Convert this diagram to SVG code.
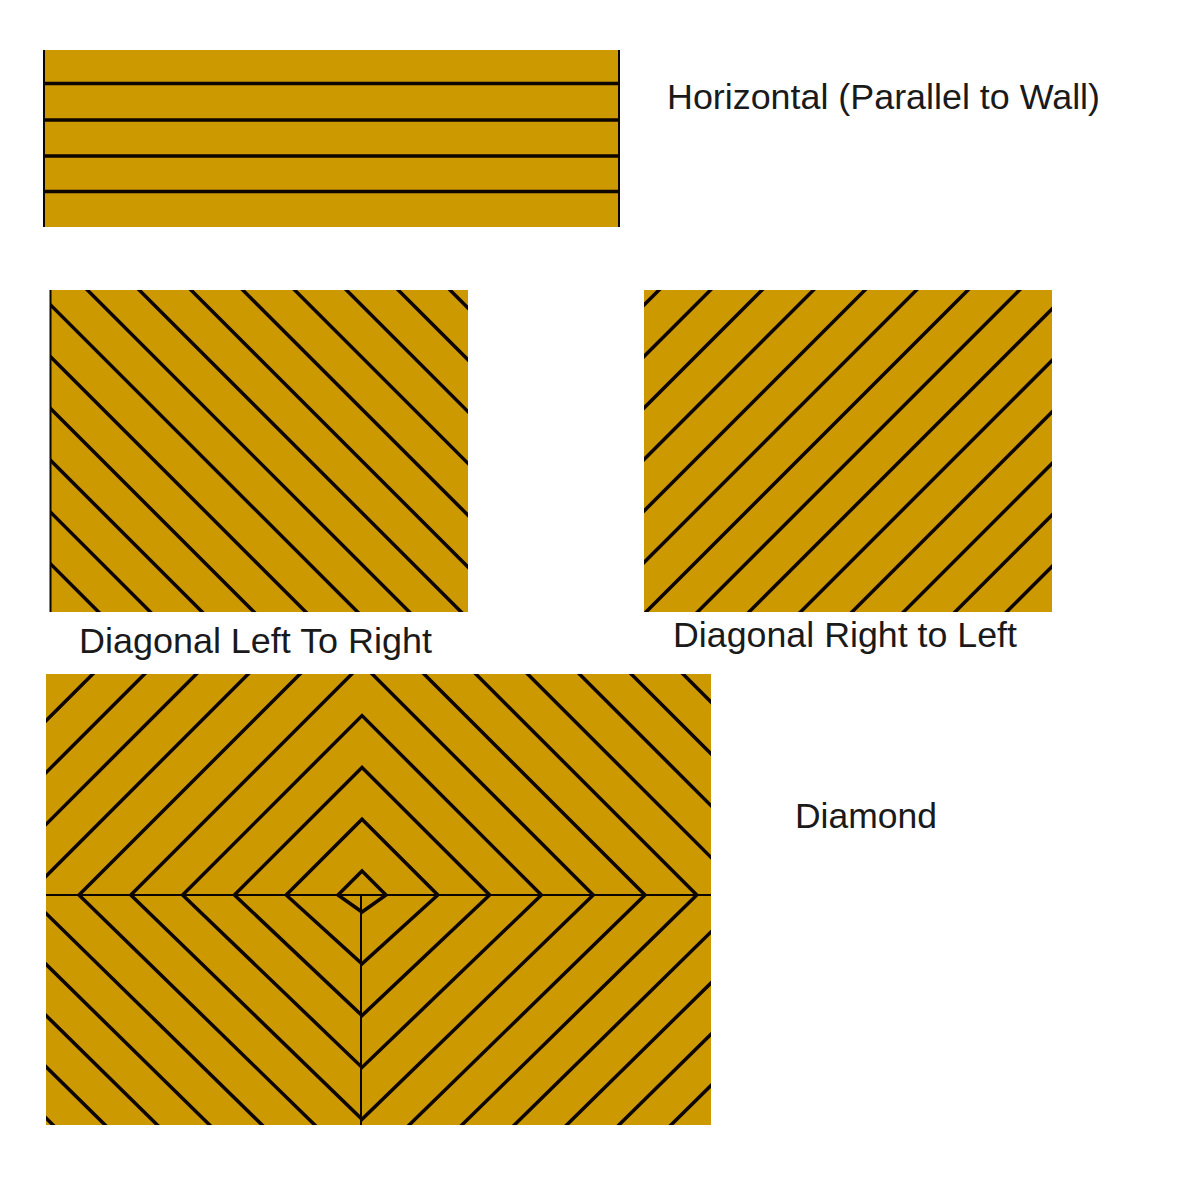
<svg xmlns="http://www.w3.org/2000/svg" width="1200" height="1200" viewBox="0 0 1200 1200">
<style>
.wood{fill:#CC9900;}
.ln{fill:none;stroke:#0d0500;stroke-width:3.5;stroke-linejoin:miter;stroke-miterlimit:10;}
.edge{fill:none;stroke:#0d0500;stroke-width:2;}
.lbl{font-family:"Liberation Sans",Arial,sans-serif;font-size:35px;fill:#1a1a1a;}
</style>
<defs>
<clipPath id="clipL"><rect x="50" y="290" width="418" height="322"/></clipPath>
<clipPath id="clipR"><rect x="644" y="290" width="408" height="322"/></clipPath>
<clipPath id="clipD"><rect x="46" y="674" width="665" height="451"/></clipPath>
</defs>
<rect width="1200" height="1200" fill="#ffffff"/>

<g id="horizontal">
<rect class="wood" x="43" y="50" width="576" height="177"/>
<path class="ln" d="M43 83.5 H619 M43 120 H619 M43 156 H619 M43 191.5 H619"/>
<path class="edge" stroke-width="2.5" d="M44 50 V227"/>
<path class="edge" stroke-width="1.5" d="M619 50 V227"/>
</g>

<g id="diagonal-left">
<rect class="wood" x="50" y="290" width="418" height="322"/>
<g clip-path="url(#clipL)">
<path class="ln" d="M30 -130 L490 330 M30 -78.2 L490 381.8 M30 -26.4 L490 433.6 M30 25.4 L490 485.4 M30 77.2 L490 537.2 M30 129 L490 589 M30 180.8 L490 640.8 M30 232.6 L490 692.6 M30 284.4 L490 744.4 M30 336.2 L490 796.2 M30 388 L490 848 M30 439.8 L490 899.8 M30 491.6 L490 951.6 M30 543.4 L490 1003.4"/>
</g>
<path class="edge" stroke-width="1.5" d="M50.5 290 V612"/>
</g>

<g id="diagonal-right">
<rect class="wood" x="644" y="290" width="408" height="322"/>
<g clip-path="url(#clipR)">
<path class="ln" d="M620 329 L1080 -131 M620 380.5 L1080 -79.5 M620 432 L1080 -28 M620 483.5 L1080 23.5 M620 535 L1080 75 M620 586.5 L1080 126.5 M620 638 L1080 178 M620 689.5 L1080 229.5 M620 741 L1080 281 M620 792.5 L1080 332.5 M620 844 L1080 384 M620 895.5 L1080 435.5 M620 947 L1080 487 M620 998.5 L1080 538.5"/>
</g>
</g>

<g id="diamond">
<rect class="wood" x="46" y="674" width="665" height="451"/>
<g clip-path="url(#clipD)">
<path class="ln" d="M338 895 L362 871 L386 895 L362 912 Z
M286.2 895 L362 819.2 L437.8 895 L362 963.8 Z
M234.4 895 L362 767.4 L489.6 895 L362 1015.6 Z
M182.6 895 L362 715.6 L541.4 895 L362 1067.4 Z
M130.8 895 L362 663.8 L593.2 895 L362 1119.2 Z
M79 895 L362 612 L645 895 L362 1171 Z
M27.2 895 L362 560.2 L696.8 895 L362 1222.8 Z
M-24.6 895 L362 508.4 L748.6 895 L362 1274.6 Z
M-76.4 895 L362 456.6 L800.4 895 L362 1326.4 Z
M-128.2 895 L362 404.8 L852.2 895 L362 1378.2 Z
M-180 895 L362 353 L904 895 L362 1430 Z"/>
</g>
<path class="edge" stroke-width="2.5" d="M46 895 H711"/>
<path class="edge" stroke-width="1.6" d="M361 895 V1125"/>
</g>

<g id="labels">
<text class="lbl" x="667" y="109" textLength="433" lengthAdjust="spacingAndGlyphs">Horizontal (Parallel to Wall)</text>
<text class="lbl" x="79" y="653" textLength="353" lengthAdjust="spacingAndGlyphs">Diagonal Left To Right</text>
<text class="lbl" x="673" y="647" textLength="344" lengthAdjust="spacingAndGlyphs">Diagonal Right to Left</text>
<text class="lbl" x="795" y="828" textLength="142" lengthAdjust="spacingAndGlyphs">Diamond</text>
</g>
</svg>
